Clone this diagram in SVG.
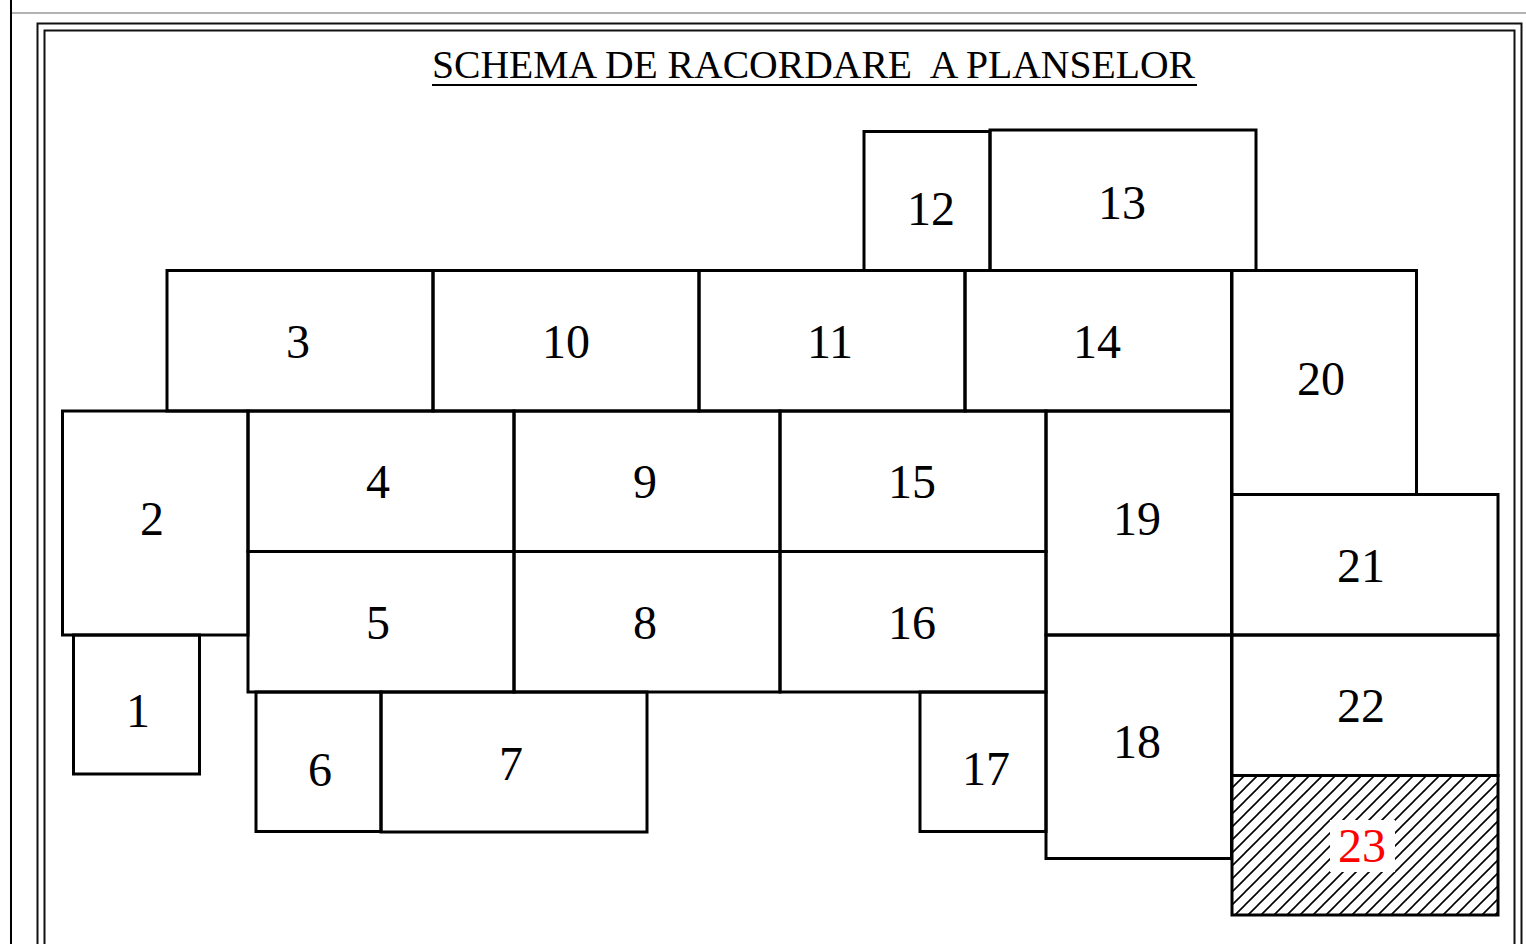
<svg xmlns="http://www.w3.org/2000/svg" width="1526" height="944" viewBox="0 0 1526 944">
<style>
.b{fill:none;stroke:#000;stroke-width:3}
.t{font-family:"Liberation Serif","Times New Roman",serif;font-size:48px;fill:#000;text-anchor:middle}
</style>
<defs>
<pattern id="hatch" patternUnits="userSpaceOnUse" width="13" height="13" x="1232" y="775">
<path d="M0,13 L13,0 M-3,3 L3,-3 M10,16 L16,10" stroke="#000" stroke-width="1.6"/>
</pattern>
</defs>
<rect width="1526" height="944" fill="#fff"/>
<g id="frame">
<line x1="11" y1="13" x2="1526" y2="13" stroke="#999" stroke-width="1.5"/>
<line x1="11" y1="0" x2="11" y2="944" stroke="#000" stroke-width="2"/>
<rect x="37.5" y="23.5" width="1484" height="940" fill="none" stroke="#111" stroke-width="2"/>
<rect x="44.5" y="30.5" width="1470" height="930" fill="none" stroke="#111" stroke-width="2"/>
</g>
<g id="title">
<text x="432" y="78" font-family="Liberation Serif,Times New Roman,serif" font-size="40" textLength="763" lengthAdjust="spacingAndGlyphs" xml:space="preserve">SCHEMA DE RACORDARE  A PLANSELOR</text>
<line x1="432" y1="85" x2="1197" y2="85" stroke="#000" stroke-width="2"/>
</g>
<g id="connectors"></g>
<g id="n12"><rect class="b" x="864" y="131.5" width="126" height="139"/><text class="t" x="931" y="225">12</text></g>
<g id="n13"><rect class="b" x="990" y="130" width="266" height="140.5"/><text class="t" x="1122" y="219">13</text></g>
<g id="n3"><rect class="b" x="167" y="270.5" width="266" height="140.5"/><text class="t" x="298" y="358">3</text></g>
<g id="n10"><rect class="b" x="433" y="270.5" width="266" height="140.5"/><text class="t" x="566" y="358">10</text></g>
<g id="n11"><rect class="b" x="699" y="270.5" width="266" height="140.5"/><text class="t" x="830" y="358">11</text></g>
<g id="n14"><rect class="b" x="965" y="270.5" width="266.5" height="140.5"/><text class="t" x="1097" y="358">14</text></g>
<g id="n20"><rect class="b" x="1232" y="270.5" width="184.5" height="224"/><text class="t" x="1321" y="395">20</text></g>
<g id="n2"><rect class="b" x="62.5" y="411" width="185.5" height="224"/><text class="t" x="152" y="535">2</text></g>
<g id="n4"><rect class="b" x="248" y="411" width="266" height="140.5"/><text class="t" x="378" y="498">4</text></g>
<g id="n9"><rect class="b" x="514" y="411" width="266" height="140.5"/><text class="t" x="645" y="498">9</text></g>
<g id="n15"><rect class="b" x="780" y="411" width="266" height="140.5"/><text class="t" x="912" y="498">15</text></g>
<g id="n19"><rect class="b" x="1046" y="411" width="185.5" height="224"/><text class="t" x="1137" y="535">19</text></g>
<g id="n5"><rect class="b" x="248" y="551.5" width="266" height="140.5"/><text class="t" x="378" y="639">5</text></g>
<g id="n8"><rect class="b" x="514" y="551.5" width="266" height="140.5"/><text class="t" x="645" y="639">8</text></g>
<g id="n16"><rect class="b" x="780" y="551.5" width="266" height="140.5"/><text class="t" x="912" y="639">16</text></g>
<g id="n21"><rect class="b" x="1232" y="494.5" width="266" height="140.5"/><text class="t" x="1361" y="582">21</text></g>
<g id="n22"><rect class="b" x="1232" y="635" width="266" height="140.5"/><text class="t" x="1361" y="722">22</text></g>
<g id="n1"><rect class="b" x="73.5" y="635" width="126" height="139"/><text class="t" x="138" y="727">1</text></g>
<g id="n6"><rect class="b" x="256" y="692" width="125" height="139.5"/><text class="t" x="320" y="786">6</text></g>
<g id="n7"><rect class="b" x="381" y="692" width="266" height="140"/><text class="t" x="511" y="780">7</text></g>
<g id="n17"><rect class="b" x="920" y="692" width="126" height="139.5"/><text class="t" x="986" y="785">17</text></g>
<g id="n18"><rect class="b" x="1046" y="635" width="185.5" height="223.5"/><text class="t" x="1137" y="758">18</text></g>
<g id="n23">
<rect x="1232" y="775.5" width="266" height="139.5" fill="url(#hatch)" stroke="#000" stroke-width="3"/>
<rect x="1330" y="820" width="65" height="52" fill="#fff"/>
<text class="t" x="1362" y="862" fill="#f00" style="fill:#ff0000">23</text>
</g>
</svg>
